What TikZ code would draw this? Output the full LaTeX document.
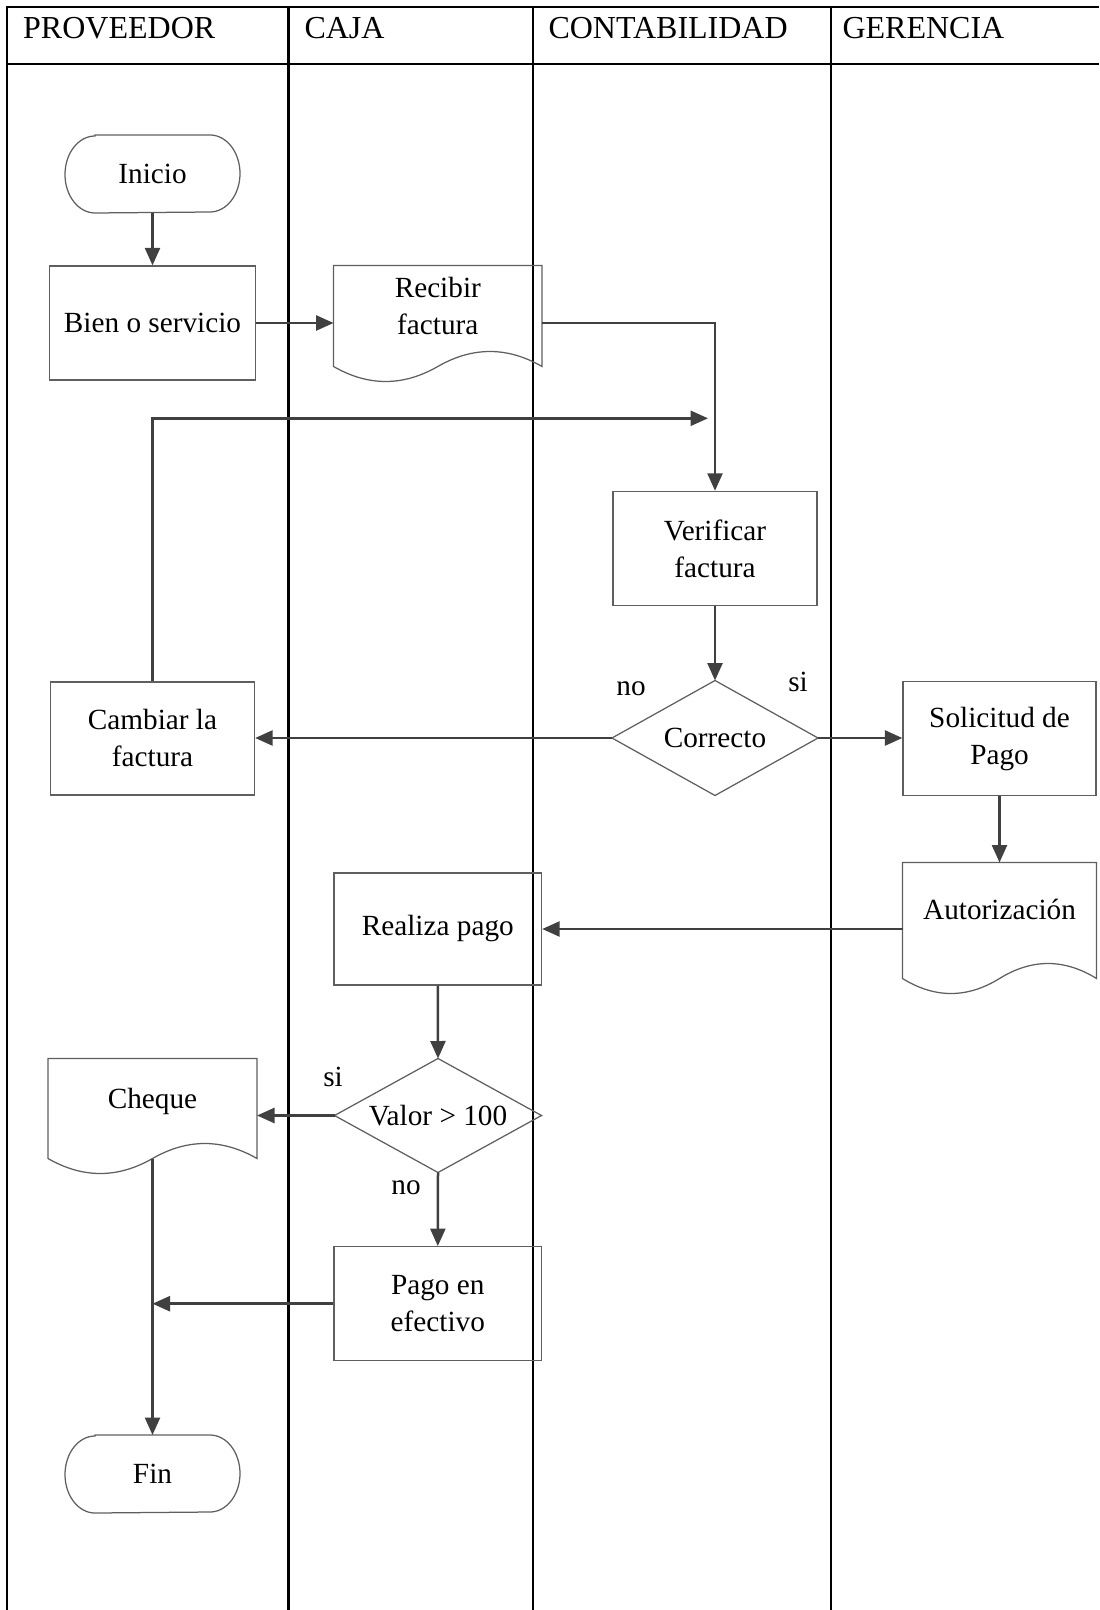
\documentclass[tikz,border=0pt]{standalone}
\usepackage{fontspec}
\setmainfont{Liberation Serif}
\usetikzlibrary{arrows.meta,calc}

\definecolor{shapegray}{HTML}{5F5F5F}
\definecolor{flowgray}{HTML}{404040}

% outline of a document symbol: straight top and sides, wavy bottom
\newcommand{\docoutline}[1]{%
  \draw[outline] (#1.south west) -- (#1.north west) -- (#1.north east) -- (#1.south east)
    .. controls ($(#1.south east)!1/3!(#1.south)+(0,-20)$) and ($(#1.south east)!2/3!(#1.south)+(0,-20)$) .. (#1.south)
    .. controls ($(#1.south)!1/3!(#1.south west)+(0,20)$) and ($(#1.south)!2/3!(#1.south west)+(0,20)$) .. (#1.south west) -- cycle;}
% outline of a start/end terminal with elliptic ends
\newcommand{\termoutline}[1]{%
  \draw[outline] ([xshift=12pt]#1.north west) -- ([xshift=-12pt]#1.north east)
    arc[start angle=90,end angle=-90,x radius=12pt,y radius=15.4pt]
    -- ([xshift=12pt]#1.south west)
    arc[start angle=270,end angle=90,x radius=12pt,y radius=15.4pt] -- cycle;}
% outline of a decision diamond
\newcommand{\decoutline}[1]{%
  \draw[outline] (#1.north) -- (#1.east) -- (#1.south) -- (#1.west) -- cycle;}

\begin{document}
\begin{tikzpicture}[x=0.4pt,y=-0.4pt,
  lanefont/.style={font={\fontsize{12.8pt}{15pt}\selectfont}},
  bodyfont/.style={font={\fontsize{11.7pt}{14.8pt}\selectfont}},
  laneline/.style={draw=black,line width=1pt},
  outline/.style={draw=shapegray,line width=0.5pt},
  hdr/.style={lanefont,anchor=base west,inner sep=0pt},
  procbox/.style={rectangle,draw=shapegray,line width=0.5pt,bodyfont,align=center,inner sep=0pt},
  holder/.style={rectangle,draw=none,bodyfont,align=center,inner sep=0pt},
  txt/.style={bodyfont,align=center,inner sep=0pt},
  lbl/.style={bodyfont,inner sep=0pt},
  flow/.style={draw=flowgray,line width=1pt,-{Triangle[length=7pt,width=6pt]}},
]
\useasboundingbox (0,0) rectangle (1099,1610);

% swimlane frame
\draw[laneline] (7,1610) -- (7,7) -- (1099,7);
\draw[laneline] (7,64) -- (1099,64);
\draw[laneline] (288.7,7) -- (288.7,1610);
\draw[laneline] (533,7) -- (533,1610);
\draw[laneline] (831,7) -- (831,1610);

\node[hdr] (h-prov) at (22.7,38.5) {PROVEEDOR};
\node[hdr] (h-caja) at (304,38.5) {CAJA};
\node[hdr] (h-cont) at (548,38.5) {CONTABILIDAD};
\node[hdr] (h-ger)  at (842,38.5) {GERENCIA};

% PROVEEDOR
\node[holder,minimum width=174*0.4pt,minimum height=30.8pt] (ini) at (152.5,174) {Inicio};
\termoutline{ini}
\node[procbox,minimum width=206*0.4pt,minimum height=114*0.4pt] (bien) at (152.5,323) {Bien o servicio};
\node[procbox,minimum width=204*0.4pt,minimum height=113*0.4pt] (cam) at (152.5,738.4) {Cambiar la\\factura};
\node[holder,minimum width=208*0.4pt,minimum height=99*0.4pt] (che) at (152.5,1108.5) {};
\docoutline{che}
\node[txt] (che-t) at (152.5,1101.7) {Cheque};
\node[holder,minimum width=174*0.4pt,minimum height=30.8pt] (fin) at (152.5,1474) {Fin};
\termoutline{fin}

% CAJA
\node[holder,minimum width=207.5*0.4pt,minimum height=100*0.4pt] (rec) at (437.8,316) {};
\docoutline{rec}
\node[txt] (rec-t) at (437.8,306) {Recibir\\factura};
\node[procbox,minimum width=207.5*0.4pt,minimum height=112*0.4pt] (real) at (437.8,929) {Realiza pago};
\node[holder,minimum width=206*0.4pt,minimum height=113*0.4pt] (val) at (438,1115.5) {Valor > 100};
\decoutline{val}
\node[procbox,minimum width=207.5*0.4pt,minimum height=114*0.4pt] (pago) at (437.8,1303.7) {Pago en\\efectivo};

% CONTABILIDAD
\node[procbox,minimum width=204*0.4pt,minimum height=114*0.4pt] (ver) at (715,548.4) {Verificar\\factura};
\node[holder,minimum width=205*0.4pt,minimum height=114*0.4pt] (cor) at (715,738) {Correcto};
\decoutline{cor}

% GERENCIA
\node[procbox,minimum width=193*0.4pt,minimum height=114*0.4pt] (sol) at (999.5,738.6) {Solicitud de\\Pago};
\node[holder,minimum width=193*0.4pt,minimum height=115*0.4pt] (aut) at (999.5,920.5) {};
\docoutline{aut}
\node[txt] (aut-t) at (999.5,909) {Autorización};

% branch labels
\node[lbl] (cor-no) at (631,689) {no};
\node[lbl] (cor-si) at (798,682) {si};
\node[lbl] (val-si) at (333,1077) {si};
\node[lbl] (val-no) at (406,1188) {no};

% flow
\coordinate (back) at (708,418.3);
\draw[flow] (ini.south) -- (bien.north);
\draw[flow] (bien.east) -- (bien -| rec.west);
\draw[flow] (bien -| rec.east) -| (ver.north);
\draw[flow] (ver.south) -- (cor.north);
\draw[flow] (cor.west) -- (cor -| cam.east);
\draw[flow] (cam.north) |- (back);
\draw[flow] (cor.east) -- (cor -| sol.west);
\draw[flow] (sol.south) -- (aut.north);
\draw[flow] (real -| aut.west) -- (real.east);
\draw[flow] (real.south) -- (val.north);
\draw[flow] (val.west) -- (val -| che.east);
\draw[flow] (val.south) -- (pago.north);
\draw[flow] (che.south) -- (fin.north);
\draw[flow] (pago.west) -- (pago -| fin.north);
\end{tikzpicture}
\end{document}
